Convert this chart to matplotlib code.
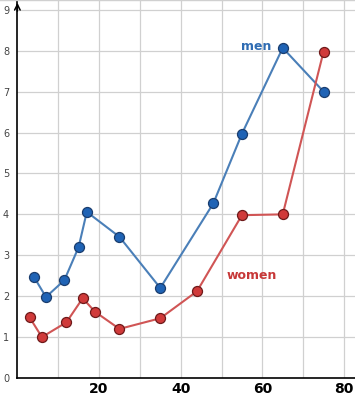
import matplotlib
matplotlib.use("Agg")
import matplotlib.pyplot as plt

men_x = [4, 7, 11.5, 15, 17, 25, 35, 48, 55, 65, 75]
men_y = [2.48, 1.98, 2.39, 3.2, 4.06, 3.45, 2.2, 4.27, 5.97, 8.07, 7.0]
women_x = [3, 6, 12, 16, 19, 25, 35, 44, 55, 65, 75]
women_y = [1.48, 1.0, 1.36, 1.95, 1.62, 1.2, 1.46, 2.12, 3.98, 4.0, 7.98]
x_ticks = [20, 40, 60, 80]
y_ticks = [0, 1, 2, 3, 4, 5, 6, 7, 8, 9]

fig = plt.figure(figsize=(3.55, 4.0), dpi=100)
ax = fig.add_axes([0.049, 0.055, 0.951, 0.945])
ax.set_xlim(0, 82.7)
ax.set_ylim(0, 9.24)

for gx in range(10, 90, 10):
    ax.axvline(gx, color="#d0d0d0", lw=0.9, zorder=0)
for gy in range(1, 10):
    ax.axhline(gy, color="#d0d0d0", lw=0.9, zorder=0)

ax.plot(men_x, men_y, color="#4a7fb8", lw=1.5, marker="o", ms=7.2,
        mfc="#1f63b5", mec="#1a3d6e", mew=0.9, zorder=3)
ax.plot(women_x, women_y, color="#d05555", lw=1.5, marker="o", ms=7.2,
        mfc="#d03a3a", mec="#6e1a1a", mew=0.9, zorder=3)

ax.text(62.2, 8.1, "men", color="#2f6cb3", fontsize=9, fontweight="bold",
        ha="right", va="center")
ax.text(57.5, 2.5, "women", color="#c73838", fontsize=9, fontweight="bold",
        ha="center", va="center")

for s in ["top", "right"]:
    ax.spines[s].set_visible(False)
ax.spines["left"].set_color("black")
ax.spines["bottom"].set_color("black")
ax.spines["left"].set_linewidth(1.2)
ax.spines["bottom"].set_linewidth(1.2)
ax.annotate("", xy=(0, 9.24), xytext=(0, 8.9),
            arrowprops=dict(arrowstyle="->", color="black", lw=1.1),
            annotation_clip=False)

ax.set_xticks(x_ticks)
ax.set_xticklabels([str(v) for v in x_ticks], fontsize=10, fontweight="bold")
ax.set_yticks(y_ticks)
ax.set_yticklabels([str(v) for v in y_ticks], fontsize=7, color="#444444")
ax.tick_params(axis="both", length=0, pad=3)
ax.tick_params(axis="y", pad=6)

fig.add_artist(plt.Line2D([0, 1], [0.999, 0.999], color="#d0d0d0", lw=1))
fig.savefig("out.png", dpi=100)
